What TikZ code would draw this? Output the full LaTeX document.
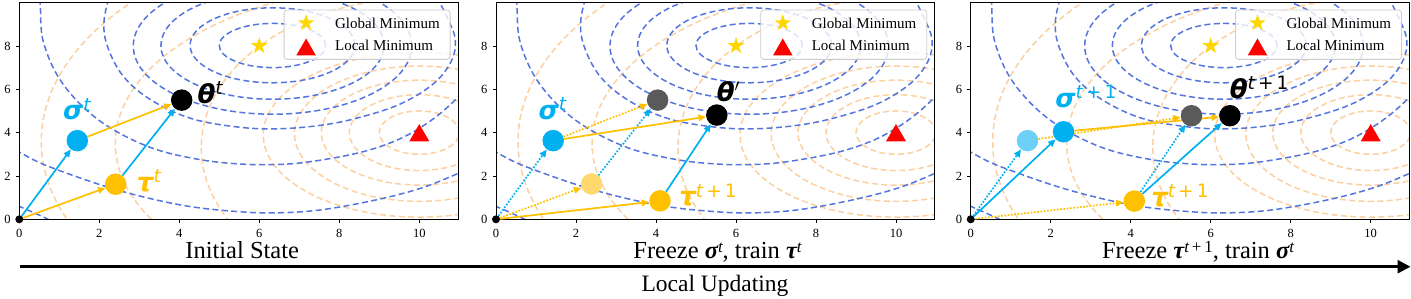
\documentclass[tikz,border=0pt]{standalone}
\usepackage{fontspec}
\setmainfont{Liberation Serif}
\newfontfamily\dvs{DejaVu Sans}
\usetikzlibrary{arrows.meta,shapes.geometric}
\pgfdeclarelayer{bg}
\pgfdeclarelayer{arrs}
\pgfsetlayers{bg,arrs,main}

\definecolor{cblue}{RGB}{84,116,222}
\definecolor{corange}{RGB}{252,208,160}
\definecolor{sblue}{RGB}{0,176,240}
\definecolor{tgold}{RGB}{255,192,0}
\definecolor{sgold}{RGB}{255,215,0}
\definecolor{fgold}{RGB}{255,216,110}
\definecolor{fgray}{RGB}{90,90,90}
\definecolor{fblue}{RGB}{110,208,246}

\tikzset{
 bcont/.style={draw=cblue, line width=1.5pt, dash pattern=on 6pt off 3.4pt},
 ocont/.style={draw=corange, line width=1.5pt, dash pattern=on 6pt off 3.4pt},
 dotn/.style={circle, inner sep=0pt, minimum size=21.5pt},
 orig/.style={circle, fill=black, inner sep=0pt, minimum size=8pt},
 arr/.style={line width=1.7pt, -{Triangle[length=7.5pt,width=6.5pt]}},
 darr/.style={arr, dash pattern=on 1.7pt off 1.6pt},
 ticklab/.style={font=\fontsize{12.5}{12.5}\selectfont, inner sep=0pt},
 leglab/.style={font=\fontsize{15}{15}\selectfont, inner sep=0pt, anchor=west},
 gstar/.style={star, star points=5, star point ratio=2.618, fill=sgold, inner sep=0pt, minimum size=17.5pt},
 ltri/.style={regular polygon, regular polygon sides=3, fill=red, inner sep=0pt, minimum size=23pt, yshift=-2.9pt},
 ptlab/.style={inner sep=0pt, font=\fontsize{26}{26}\selectfont\dvs},
 xlab/.style={anchor=base, inner sep=0pt, font=\fontsize{24.5}{24.5}\selectfont},
}

\newcommand\gsym[2]{{\bfseries\itshape #1}\raisebox{8.5pt}{\fontsize{18.5}{18.5}\selectfont\itshape #2}}
\newcommand\xsym[2]{{\bfseries\itshape #1}\raisebox{6pt}{\fontsize{17}{17}\selectfont\itshape #2}}

\newcommand\bgpanel[1]{%
\begin{pgfonlayer}{bg}
\begin{scope}
\clip (0,0) rectangle (10.97,10);
\draw[ocont] (10,4) ellipse [x radius=1, y radius=1];
\draw[ocont] (10,4) ellipse [x radius=1.75, y radius=1.75];
\draw[ocont] (10,4) ellipse [x radius=2.45, y radius=2.42];
\draw[ocont] (10,3.95) ellipse [x radius=3.12, y radius=3.12];
\draw[ocont] (10,3.9) ellipse [x radius=3.9, y radius=3.8];
\draw[ocont] (10,3.3) ellipse [x radius=5.45, y radius=6.9];
\draw[ocont] (10,3.5) ellipse [x radius=7.6, y radius=7.4];
\draw[ocont] (10,3.6) ellipse [x radius=9.45, y radius=9.9];
\draw[bcont] (6.33,8.02) ellipse [x radius=1.33, y radius=1.02];
\draw[bcont] (6.33,8.03) ellipse [x radius=2.06, y radius=1.73];
\draw[bcont] (6.33,8.02) ellipse [x radius=2.79, y radius=2.48];
\draw[bcont] (6.33,8.0) ellipse [x radius=3.48, y radius=3.15];
\draw[bcont] plot[smooth, tension=0.6] coordinates {(2.3,10.6) (2.12,9.2) (2.2,8.0) (2.6,6.6) (3.3,5.5) (4.3,4.65) (5.5,4.25) (6.5,4.18) (7.5,4.33) (8.4,4.65) (9.5,5.3) (10.35,6.25) (10.8,7.3) (10.9,8.3) (10.7,9.3) (10.4,10.4)};
\draw[bcont] plot[smooth, tension=0.6] coordinates {(0.45,10.6) (0.52,10.0) (0.6,8.2) (1.07,6.3) (1.97,4.6) (3.2,3.37) (4.47,2.77) (5.64,2.54) (6.7,2.55) (7.6,2.75) (8.6,3.12) (9.4,3.62) (10.0,4.2) (10.5,4.85) (10.95,5.6) (11.3,6.3)};
\draw[bcont] plot[smooth, tension=0.6] coordinates {(-0.3,3.4) (0,3.1) (0.72,2.45) (2.4,1.38) (4.07,0.65) (5.5,0.35) (6.5,0.3) (7.6,0.45) (8.98,0.92) (10.08,1.46) (10.95,2.1) (11.3,2.4)};
\draw[bcont] plot[smooth, tension=0.6] coordinates {(-0.25,0.8) (0,0.6) (0.72,0) (1.0,-0.35)};
\end{scope}
\draw[line width=0.8pt] (0,0) rectangle (10.97,10);
\foreach \vv in {0,2,...,10}{
 \draw[line width=0.8pt] (\vv,0) -- ++(0,-3.5pt);
 \node[ticklab, anchor=north] (#1x\vv) at ([yshift=-9.5pt]\vv,0) {\vv};
}
\foreach \vv in {0,2,...,8}{
 \draw[line width=0.8pt] (0,\vv) -- ++(-3.5pt,0);
 \node[ticklab, anchor=east] (#1y\vv) at ([xshift=-8.5pt]0,\vv) {\vv};
}
\node[gstar] (#1gs) at (6,8) {};
\node[ltri] (#1lt) at (10,4) {};
\draw[draw=black!20, line width=0.8pt, fill=white, fill opacity=0.8, rounded corners=3pt] (6.62,7.38) rectangle (10.77,9.66);
\node[gstar] (#1lgs) at (7.17,9.06) {};
\node[ltri, minimum size=22.5pt] (#1llt) at (7.17,7.96) {};
\node[leglab] (#1lg1) at (7.89,9.04) {Global Minimum};
\node[leglab] (#1lg2) at (7.89,8.02) {Local Minimum};
\end{pgfonlayer}%
}

\begin{document}
\begin{tikzpicture}[x=1pt,y=1pt]
\useasboundingbox (0,0) rectangle (1411,-298);

% ---------- panel 1 ----------
\begin{scope}[shift={(19.3pt,-219.3pt)},x=40pt,y=21.67pt]
\bgpanel{a}
\node[orig] (p1o) at (0,0) {};
\node[dotn,fill=sblue] (p1s) at (1.45,3.63) {};
\node[dotn,fill=tgold] (p1t) at (2.41,1.62) {};
\node[dotn,fill=black] (p1h) at (4.06,5.5) {};
\begin{pgfonlayer}{arrs}
\draw[arr,sblue] (p1o) -- (p1s);
\draw[arr,tgold] (p1o) -- (p1t);
\draw[arr,tgold] (p1s) -- (p1h);
\draw[arr,sblue] (p1t) -- (p1h);
\end{pgfonlayer}
\node[ptlab,text=sblue] (p1sl) at (1.44,5.07) {\gsym{σ}{t}};
\node[ptlab,text=black] (p1hl) at (4.77,5.85) {\gsym{θ}{t}};
\node[ptlab,text=tgold] (p1tl) at (3.24,1.79) {\gsym{τ}{t}};
\end{scope}

% ---------- panel 2 ----------
\begin{scope}[shift={(496pt,-219.3pt)},x=40pt,y=21.67pt]
\bgpanel{b}
\node[orig] (p2o) at (0,0) {};
\node[dotn,fill=sblue] (p2s) at (1.43,3.63) {};
\node[dotn,fill=fgold] (p2tf) at (2.39,1.63) {};
\node[dotn,fill=fgray] (p2hf) at (4.04,5.5) {};
\node[dotn,fill=tgold] (p2t) at (4.1,0.85) {};
\node[dotn,fill=black] (p2h) at (5.52,4.81) {};
\begin{pgfonlayer}{arrs}
\draw[darr,sblue] (p2o) -- (p2s);
\draw[darr,tgold] (p2o) -- (p2tf);
\draw[darr,sblue] (p2tf) -- (p2hf);
\draw[darr,tgold] (p2s) -- (p2hf);
\draw[arr,tgold] (p2o) -- (p2t);
\draw[arr,tgold] (p2s) -- (p2h);
\draw[arr,sblue] (p2t) -- (p2h);
\end{pgfonlayer}
\node[ptlab,text=sblue] (p2sl) at (1.41,5.11) {\gsym{σ}{t}};
\node[ptlab,text=black] (p2hl) at (5.81,5.87) {{\bfseries\itshape θ}\raisebox{1pt}{$'$}};
\node[ptlab,text=tgold] (p2tl) at (5.3,1.12) {\gsym{τ}{t\,{\upshape +}\,{\upshape 1}}};
\end{scope}

% ---------- panel 3 ----------
\begin{scope}[shift={(970.7pt,-219.3pt)},x=40pt,y=21.67pt]
\bgpanel{c}
\node[orig] (p3o) at (0,0) {};
\node[dotn,fill=fblue] (p3sf) at (1.42,3.63) {};
\node[dotn,fill=sblue] (p3s) at (2.32,4.04) {};
\node[dotn,fill=tgold] (p3t) at (4.09,0.84) {};
\node[dotn,fill=fgray] (p3hf) at (5.52,4.78) {};
\node[dotn,fill=black] (p3h) at (6.48,4.78) {};
\begin{pgfonlayer}{arrs}
\draw[darr,sblue] (p3o) -- (p3sf);
\draw[arr,sblue] (p3o) -- (p3s);
\draw[darr,tgold] (p3o) -- (p3t);
\draw[darr,tgold] (p3sf) -- (p3hf);
\draw[darr,sblue] (p3t) -- (p3hf);
\draw[arr,tgold] (p3s) -- (p3h);
\draw[arr,sblue] (p3t) -- (p3h);
\end{pgfonlayer}
\node[ptlab,text=sblue] (p3sl) at (2.88,5.67) {\gsym{σ}{t\,{\upshape +}\,{\upshape 1}}};
\node[ptlab,text=black] (p3hl) at (7.21,6.08) {\gsym{θ}{t\,{\upshape +}\,{\upshape 1}}};
\node[ptlab,text=tgold] (p3tl) at (5.23,1.1) {\gsym{τ}{t\,{\upshape +}\,{\upshape 1}}};
\end{scope}

% ---------- x labels ----------
\node[xlab] (xl1) at (242.2,-258) {Initial State};
\node[xlab] (xl2) at (717.5,-258) {Freeze \xsym{σ}{t}, train \xsym{τ}{t}};
\node[xlab] (xl3) at (1198,-258) {Freeze \xsym{τ}{t\,{\upshape +}\,{\upshape 1}}, train \xsym{σ}{t}};

% ---------- bottom arrow ----------
\coordinate (luS) at (20,-266.7);
\coordinate (luE) at (1410.5,-266.7);
\draw[line width=2.7pt, -{Triangle[length=13pt,width=13pt]}] (luS) -- (luE);
\node[anchor=base, inner sep=0pt, font=\fontsize{23.5}{23.5}\selectfont] (lul) at (715,-291) {Local Updating};
\end{tikzpicture}
\end{document}
